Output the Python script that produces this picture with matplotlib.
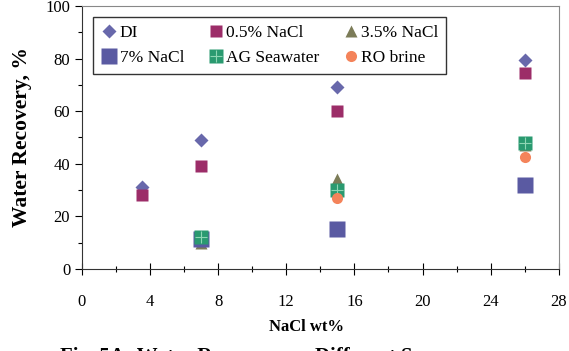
import matplotlib.pyplot as plt
from matplotlib.ticker import MultipleLocator

plt.rcParams['font.family'] = ['Liberation Serif', 'DejaVu Serif']

# data
di_x = [3.5, 7, 15, 26]
di_y = [31, 49, 69, 79.5]
nacl05_x = [3.5, 7, 15, 26]
nacl05_y = [28, 39, 60, 74.5]
nacl35_x = [7, 15, 26]
nacl35_y = [10, 34, 47]
nacl7_x = [7, 15, 26]
nacl7_y = [11.5, 15, 32]
ag_x = [7, 15, 26]
ag_y = [12, 30, 48]
ro_x = [15, 26]
ro_y = [27, 42.5]

fig = plt.figure(figsize=(5.69, 3.51), dpi=100)
ax = fig.add_axes([0.144, 0.234, 0.838, 0.749])

p1, = ax.plot(di_x, di_y, 'D', color='#6868ab', ms=7, mec='none')
p2, = ax.plot(nacl05_x, nacl05_y, 's', color='#9c2d68', ms=8, mec='none')
p3, = ax.plot(nacl35_x, nacl35_y, '^', color='#7c7c58', ms=9, mec='none')
p4, = ax.plot(nacl7_x, nacl7_y, 's', color='#5a5aa2', ms=11, mec='none')
p5, = ax.plot(ag_x, ag_y, 's', color='#2a9a70', ms=10.5, mec='none')
p5b, = ax.plot(ag_x, ag_y, '+', color='#8fd6b4', ms=8, mew=0.8)
p6, = ax.plot(ro_x, ro_y, 'o', color='#f4835a', ms=8, mec='none')

ax.set_xlim(0, 28)
ax.set_ylim(0, 100)
ax.xaxis.set_major_locator(MultipleLocator(4))
ax.xaxis.set_minor_locator(MultipleLocator(2))
ax.yaxis.set_major_locator(MultipleLocator(20))
ax.yaxis.set_minor_locator(MultipleLocator(10))
ax.tick_params(axis='x', which='major', direction='inout', length=8, width=0.8,
               labelsize=12, pad=14)
ax.tick_params(axis='x', which='minor', direction='inout', length=5, width=0.8)
ax.tick_params(axis='y', which='major', direction='out', length=5, width=0.8,
               labelsize=12)
ax.tick_params(axis='y', which='minor', direction='out', length=3, width=0.8)

for s in ['left', 'bottom']:
    ax.spines[s].set_color('#333333')
for s in ['top', 'right']:
    ax.spines[s].set_color('#888888')

ax.set_ylabel('Water Recovery, %', fontsize=15.5, fontweight='bold')
ax.yaxis.set_label_coords(-0.105, 0.5)
ax.set_xlabel('NaCl wt%', fontsize=12, fontweight='bold')
ax.xaxis.set_label_coords(0.47, -0.19)

# legend fills column-wise, so order gives rows DI/0.5/3.5 and 7/AG/RO
ax.legend([p1, p4, p2, (p5, p5b), p3, p6],
          ['DI', '7% NaCl', '0.5% NaCl', 'AG Seawater', '3.5% NaCl', 'RO brine'],
          ncol=3, loc='upper left', bbox_to_anchor=(0.005, 0.99), fontsize=12.5,
          frameon=True, fancybox=False, edgecolor='#333333', framealpha=1,
          handletextpad=0.1, columnspacing=1.3, handlelength=1.0,
          borderpad=0.45, labelspacing=0.5)

fig.text(0.105, -0.045, 'Fig. 5A: Water Recovery vs. Different Sources',
         fontsize=15, fontweight='bold', ha='left', va='bottom')

fig.savefig('out.png', dpi=100)
